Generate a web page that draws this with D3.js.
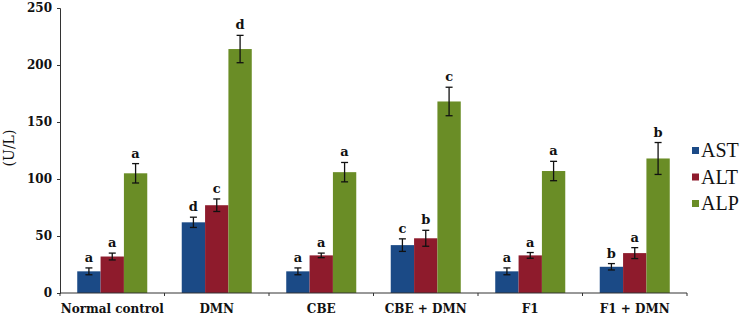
<!DOCTYPE html>
<html>
<head>
<meta charset="utf-8">
<script src="https://cdn.jsdelivr.net/npm/d3@7"></script>
<style>
  body { margin: 0; background: #fff; }
</style>
</head>
<body>
<div id="chart"></div>
<script>
const groups = ["Normal control", "DMN", "CBE", "CBE + DMN", "F1", "F1 + DMN"];
const seriesNames = ["AST", "ALT", "ALP"];
const colors = ["#1b4a86", "#8e1b2c", "#6a8d26"];

const astValues = [19, 62, 19, 42, 19, 23];
const altValues = [32, 77, 33, 48, 33, 35];
const alpValues = [105, 214, 106, 168, 107, 118];

const astErr = [3, 4.5, 3, 5.5, 3, 2.8];
const altErr = [3, 5.5, 2, 7, 2.5, 4.8];
const alpErr = [8.5, 12, 8.5, 12.5, 8.5, 14];

const astLetters = ["a", "d", "a", "c", "a", "b"];
const altLetters = ["a", "c", "a", "b", "a", "a"];
const alpLetters = ["a", "d", "a", "c", "a", "b"];

const yTicks = [0, 50, 100, 150, 200, 250];

const values = [astValues, altValues, alpValues];
const errs = [astErr, altErr, alpErr];
const letters = [astLetters, altLetters, alpLetters];

const width = 750, height = 317;
const margin = { top: 8, right: 63, bottom: 24, left: 60 };

const svg = d3.select("#chart").append("svg")
    .attr("width", width)
    .attr("height", height);

const x0 = d3.scaleBand()
    .domain(groups)
    .range([margin.left, width - margin.right])
    .paddingInner(0.33)
    .paddingOuter(0.165);

const x1 = d3.scaleBand()
    .domain(seriesNames)
    .range([0, x0.bandwidth()]);

const y = d3.scaleLinear()
    .domain([0, 250])
    .range([height - margin.bottom, margin.top]);

// bars
const data = [];
groups.forEach((g, i) => {
  seriesNames.forEach((s, j) => {
    data.push({ g: g, s: s, j: j, v: values[j][i], e: errs[j][i], l: letters[j][i] });
  });
});

svg.append("g").selectAll("rect")
  .data(data)
  .enter().append("rect")
    .attr("x", d => x0(d.g) + x1(d.s))
    .attr("y", d => y(d.v))
    .attr("width", x1.bandwidth())
    .attr("height", d => y(0) - y(d.v))
    .attr("fill", d => colors[d.j]);

// error bars
const eb = svg.append("g").attr("stroke", "#111").attr("stroke-width", 1.3);
data.forEach(d => {
  const cx = x0(d.g) + x1(d.s) + x1.bandwidth() / 2;
  eb.append("line").attr("x1", cx).attr("x2", cx).attr("y1", y(d.v + d.e)).attr("y2", y(d.v - d.e));
  eb.append("line").attr("x1", cx - 3.5).attr("x2", cx + 3.5).attr("y1", y(d.v + d.e)).attr("y2", y(d.v + d.e));
  eb.append("line").attr("x1", cx - 3.5).attr("x2", cx + 3.5).attr("y1", y(d.v - d.e)).attr("y2", y(d.v - d.e));
});

// significance letters
svg.append("g").selectAll("text")
  .data(data)
  .enter().append("text")
    .attr("x", d => x0(d.g) + x1(d.s) + x1.bandwidth() / 2)
    .attr("y", d => y(d.v + d.e) - 6)
    .attr("text-anchor", "middle")
    .attr("font-family", "DejaVu Serif")
    .attr("font-weight", "bold")
    .attr("font-size", "13px")
    .attr("fill", "#111")
    .text(d => d.l);

// y axis
const yAxis = svg.append("g")
    .attr("transform", "translate(" + margin.left + ",0)")
    .call(d3.axisLeft(y).tickValues(yTicks).tickSize(3).tickPadding(5));
yAxis.select(".domain").attr("stroke", "#333");
yAxis.selectAll(".tick line").attr("stroke", "#333");
yAxis.selectAll("text")
    .attr("font-family", "DejaVu Serif")
    .attr("font-weight", "bold")
    .attr("font-size", "12px")
    .attr("fill", "#111");

// x axis
const xAxisG = svg.append("g").attr("transform", "translate(0," + y(0) + ")");
xAxisG.append("line")
    .attr("x1", margin.left).attr("x2", width - margin.right)
    .attr("stroke", "#333");
const step = x0.step();
d3.range(groups.length + 1).forEach(i => {
  const tx = margin.left + i * step;
  xAxisG.append("line").attr("x1", tx).attr("x2", tx).attr("y1", 0).attr("y2", 3).attr("stroke", "#333");
});
xAxisG.selectAll("text.cat")
  .data(groups)
  .enter().append("text")
    .attr("class", "cat")
    .attr("x", d => x0(d) + x0.bandwidth() / 2)
    .attr("y", 20)
    .attr("text-anchor", "middle")
    .attr("font-family", "DejaVu Serif")
    .attr("font-weight", "bold")
    .attr("font-size", "12px")
    .attr("fill", "#111")
    .text(d => d);

// y label
svg.append("text")
    .attr("transform", "translate(14,148) rotate(-90)")
    .attr("text-anchor", "middle")
    .attr("font-family", "DejaVu Serif")
    .attr("font-size", "14px")
    .attr("fill", "#111")
    .text("(U/L)");

// legend
let legX = 692;
let legY = 150;
seriesNames.forEach((s, i) => {
  svg.append("rect")
    .attr("x", legX)
    .attr("y", legY + i * 26.5 - 3)
    .attr("width", 7)
    .attr("height", 7)
    .attr("fill", colors[i]);
  svg.append("text")
    .attr("x", legX + 9)
    .attr("y", legY + i * 26.5 + 7)
    .attr("font-family", "Liberation Serif")
    .attr("font-size", "20px")
    .attr("fill", "#111")
    .text(s);
});
</script>
</body>
</html>
